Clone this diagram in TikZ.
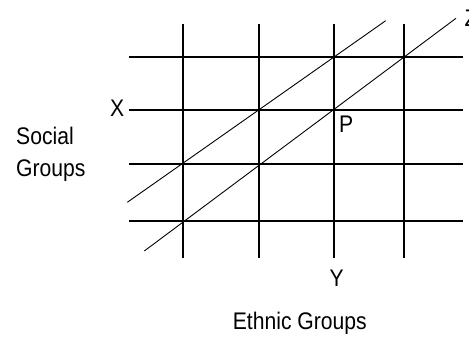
\documentclass[tikz,border=0pt]{standalone}
\usepackage{fontspec}
\setmainfont{Liberation Sans}[FakeStretch=0.88]
\usepackage{tikz}
\usetikzlibrary{positioning}
\tikzset{
  gridline/.style={line width=2pt},
  diagline/.style={line width=0.9pt},
  lbl/.style={inner sep=0pt, font=\fontsize{24}{31.7}\selectfont},
}

\begin{document}
\begin{tikzpicture}[x=1pt, y=-1pt]
  \useasboundingbox (0,0) rectangle (469,337);

  % grid of groups
  \foreach \cx in {182.7,259,334.3,404.3}
    \draw[gridline] (\cx,24) -- (\cx,258);
  \foreach \ry in {56.7,109.7,164,220.7}
    \draw[gridline] (129.3,\ry) -- (462.7,\ry);

  % the two diagonals
  \coordinate (da) at (127.3,202.3);
  \coordinate (db) at (385.7,20.7);
  \coordinate (dc) at (144.3,251);
  \coordinate (dd) at (456,18.3);
  \draw[diagline] (da) -- (db);
  \draw[diagline] (dc) -- (dd);

  % labels
  \node[lbl, anchor=base east] (xl) at (124.3,116.7) {X};
  \node[lbl, anchor=base west] (pl) at (338.8,132.7) {P};
  \node[lbl, anchor=base] (yl) at (336.7,286) {Y};
  \node[lbl, anchor=base west] (zl) at (464.5,27) {Z};
  \node[lbl, anchor=base west, align=left] (social) at (16,176) {Social\\Groups};
  \node[lbl, anchor=base west] (ethnic) at (232.7,329) {Ethnic Groups};
\end{tikzpicture}
\end{document}
